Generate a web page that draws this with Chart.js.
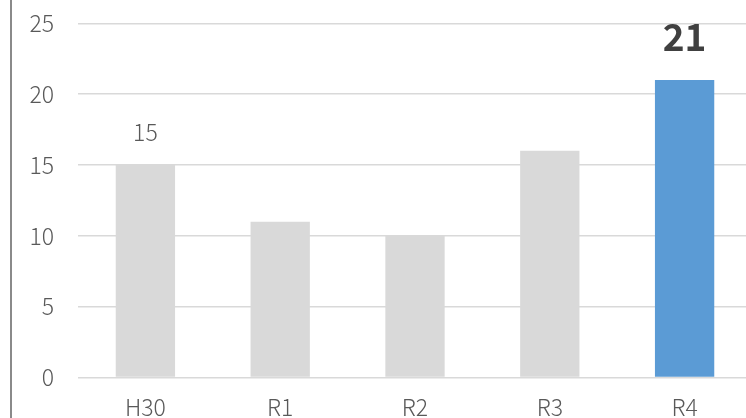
<!DOCTYPE html>
<html>
<head>
<meta charset="utf-8">
<script src="https://cdn.jsdelivr.net/npm/chart.js@4"></script>
<style>
  html, body { margin: 0; padding: 0; background: #fff; overflow: hidden; width: 746px; height: 418px; }
  #wrap { position: relative; width: 752px; height: 418px; }
  #frame { position: absolute; left: 10px; top: 0; width: 2px; height: 418px; background: #8a8a8a; }
  canvas { position: absolute; left: 0; top: 0; }
</style>
</head>
<body>
<div id="wrap">
  <canvas id="c" width="752" height="418" style="width:752px;height:418px"></canvas>
  <div id="frame"></div>
</div>
<script>
const categories = ["H30", "R1", "R2", "R3", "R4"];
const values = [15, 11, 10, 16, 21];
const yTicks = [0, 5, 10, 15, 20, 25];
const labeledCategories = ["H30", "R4"];
const highlightCategory = "R4";

const FONT = '"Noto Sans CJK JP", "Noto Sans", sans-serif';

const barColors = categories.map(c => c === highlightCategory ? "#5b9bd5" : "#d9d9d9");

const valueLabels = {
  id: "valueLabels",
  afterDatasetsDraw(chart) {
    const ctx = chart.ctx;
    const meta = chart.getDatasetMeta(0);
    ctx.save();
    ctx.textAlign = "center";
    ctx.textBaseline = "alphabetic";
    categories.forEach((cat, i) => {
      if (!labeledCategories.includes(cat)) return;
      const bar = meta.data[i];
      if (cat === highlightCategory) {
        ctx.font = "bold 37px " + FONT;
        ctx.fillStyle = "#404040";
        ctx.fillText(String(values[i]), bar.x, bar.y - 29);
      } else {
        ctx.font = "300 23px " + FONT;
        ctx.fillStyle = "#595959";
        ctx.fillText(String(values[i]), bar.x, bar.y - 24);
      }
    });
    ctx.restore();
  }
};

new Chart(document.getElementById("c"), {
  type: "bar",
  data: {
    labels: categories,
    datasets: [{
      data: values,
      backgroundColor: barColors,
      borderWidth: 0,
      barPercentage: 0.44,
      categoryPercentage: 1.0
    }]
  },
  options: {
    responsive: false,
    animation: false,
    devicePixelRatio: 1,
    layout: { padding: { top: 23.3, left: 0, right: 0, bottom: 0 } },
    plugins: { legend: { display: false }, tooltip: { enabled: false } },
    scales: {
      x: {
        grid: { display: false, drawTicks: false },
        border: { display: false },
        ticks: { color: "#595959", font: { family: FONT, size: 23, weight: 300 }, padding: 16, maxRotation: 0 },
        afterFit(scale) { scale.height = 40.5; scale.paddingLeft = 0; scale.paddingRight = 0; }
      },
      y: {
        min: 0, max: 25,
        afterBuildTicks(scale) { scale.ticks = yTicks.map(v => ({ value: v })); },
        grid: { color: "#d9d9d9", lineWidth: 1.5, drawTicks: false },
        border: { display: false },
        ticks: { color: "#595959", font: { family: FONT, size: 23, weight: 300 }, padding: 24 },
        afterFit(scale) { scale.width = 78; scale.paddingTop = 0; scale.paddingBottom = 0; }
      }
    }
  },
  plugins: [valueLabels]
});
</script>
</body>
</html>
